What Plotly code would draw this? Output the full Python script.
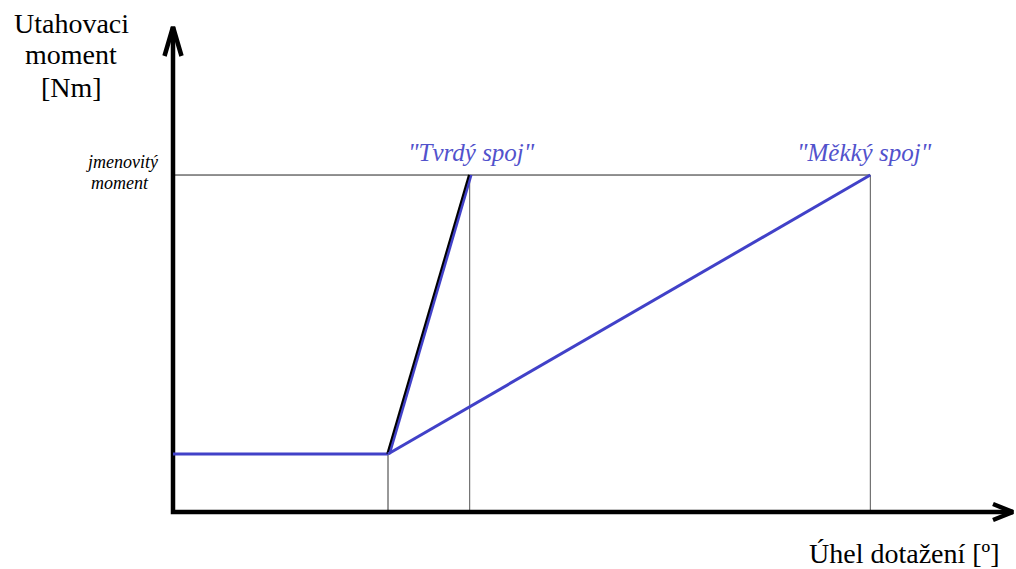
import plotly.graph_objects as go

# ---- data (angle in arbitrary degrees, torque in arbitrary Nm) ----
angle_points = [0, 30, 41.4, 97.3]          # start, end of prevailing phase, hard joint end, soft joint end
torque_prevailing = 10
torque_nominal = 58.1
hard_joint_angle = [30, 41.4]
hard_joint_torque = [10, 58.1]
soft_joint_angle = [30, 97.3]
soft_joint_torque = [10, 58.1]
prevail_angle = [0, 30]
prevail_torque = [10, 10]

y_title_lines = ["Utahovaci", "moment", "[Nm]"]
x_title = "Úhel dotažení [º]"
nominal_label = ["jmenovitý", "moment"]
label_hard = "\"Tvrdý spoj\""
label_soft = "\"Měkký spoj\""

# ---- layout scale ----
W, H = 1016, 569
PXX = 7.1667   # px per x unit
PXY = 5.8      # px per y unit
ox, oy = 173, 512   # origin pixel
x_range = [-ox / PXX, (W - ox) / PXX]
y_range = [-(H - oy) / PXY, oy / PXY]
x_axis_end = (1013 - ox) / PXX
y_axis_end = (oy - 27) / PXY

BLUE = "#4141C8"
TXTBLUE = "#5252CC"
SERIF = "'Liberation Serif', 'Times New Roman', serif"

fig = go.Figure()

def seg(x, y, color, width):
    fig.add_trace(go.Scatter(x=x, y=y, mode="lines",
                             line=dict(color=color, width=width),
                             hoverinfo="skip", showlegend=False))

# guide lines
seg([0, soft_joint_angle[1]], [torque_nominal, torque_nominal], "#222222", 1)
seg([angle_points[1], angle_points[1]], [0, torque_prevailing], "#333333", 1)
seg([hard_joint_angle[1], hard_joint_angle[1]], [0, torque_nominal], "#555555", 1)
seg([soft_joint_angle[1], soft_joint_angle[1]], [0, torque_nominal], "#555555", 1)

# axes with arrows
seg([0, 0, x_axis_end], [y_axis_end, 0, 0], "black", 4.5)
seg([-8.5 / PXX, 0, 8.5 / PXX], [y_axis_end - 29 / PXY, y_axis_end, y_axis_end - 29 / PXY], "black", 4.5)
seg([x_axis_end - 20 / PXX, x_axis_end, x_axis_end - 20 / PXX], [8 / PXY, 0, -8 / PXY], "black", 4.5)

# curves
seg(prevail_angle, prevail_torque, BLUE, 3)
seg(hard_joint_angle, hard_joint_torque, "black", 3.5)
dx = 1.6 / PXX
seg([a + dx for a in hard_joint_angle], hard_joint_torque, BLUE, 2.5)
seg(soft_joint_angle, soft_joint_torque, BLUE, 3)

def px_ann(text, px, py, size, color="black", italic=False, xanchor="center"):
    fig.add_annotation(
        x=px / W, y=1 - py / H, xref="paper", yref="paper",
        text=f"<i>{text}</i>" if italic else text, showarrow=False,
        xanchor=xanchor, yanchor="middle",
        font=dict(family=SERIF, size=size, color=color))

for t, py in zip(y_title_lines, [23, 55, 87]):
    px_ann(t, 71, py, 28)
px_ann(x_title, 904, 553, 28)
px_ann(nominal_label[0], 122, 162, 18, italic=True)
px_ann(nominal_label[1], 120, 183, 18, italic=True)
px_ann(label_hard, 471, 152, 25, color=TXTBLUE, italic=True)
px_ann(label_soft, 864, 152, 25, color=TXTBLUE, italic=True)

fig.update_layout(
    width=W, height=H,
    margin=dict(l=0, r=0, t=0, b=0),
    paper_bgcolor="white", plot_bgcolor="white",
    xaxis=dict(range=x_range, visible=False, fixedrange=True),
    yaxis=dict(range=y_range, visible=False, fixedrange=True),
)

fig.write_html("out.html",
               config={"displayModeBar": False},
               post_script="document.body.style.margin='0';document.body.style.overflow='hidden';")
